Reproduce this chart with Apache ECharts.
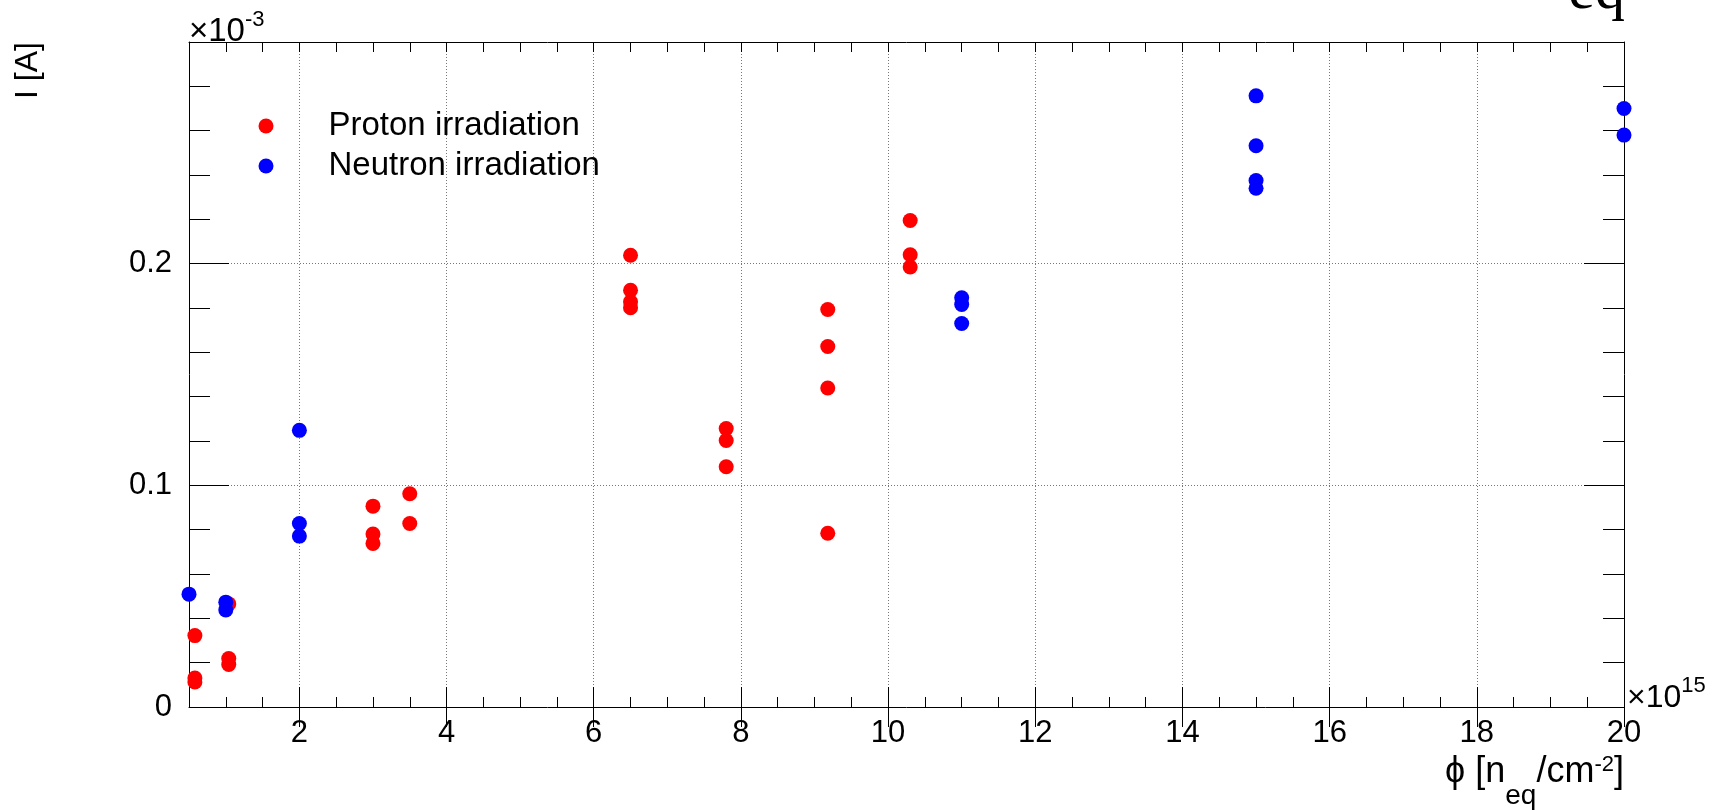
<!DOCTYPE html>
<html>
<head>
<meta charset="utf-8">
<script src="https://cdn.jsdelivr.net/npm/echarts@6/dist/echarts.min.js"></script>
<style>
html,body{margin:0;padding:0;background:#fff;}
#chart{width:1723px;height:810px;}
</style>
</head>
<body>
<div id="chart"></div>
<script>
// ---- data (fluence in 1e15 n_eq/cm^2, current in 1e-3 A) ----
const protonFluence = [0.58, 0.58, 0.58, 1.04, 1.04, 1.04, 3.0, 3.0, 3.0, 3.5, 3.5,
  6.5, 6.5, 6.5, 6.5, 7.8, 7.8, 7.8, 9.18, 9.18, 9.18, 9.18, 10.3, 10.3, 10.3];
const protonCurrent = [0.0322, 0.0131, 0.0113, 0.0465, 0.0219, 0.0192, 0.0906, 0.0780, 0.0738, 0.0962, 0.0828,
  0.2038, 0.1880, 0.1828, 0.1801, 0.1256, 0.1202, 0.1084, 0.1793, 0.1626, 0.1439, 0.0784, 0.2195, 0.2040, 0.1985];
const neutronFluence = [0.5, 1.0, 1.0, 2.0, 2.0, 2.0, 11.0, 11.0, 11.0, 15.0, 15.0, 15.0, 15.0, 20.0, 20.0];
const neutronCurrent = [0.0509, 0.0473, 0.0438, 0.1248, 0.0828, 0.0771, 0.1846, 0.1816, 0.1730,
  0.2757, 0.2532, 0.2375, 0.2340, 0.2700, 0.2580];
const seriesNames = ['Proton irradiation', 'Neutron irradiation'];
const xMajorTicks = [2, 4, 6, 8, 10, 12, 14, 16, 18, 20];
const xGridValues = [2, 4, 6, 8, 10, 12, 14, 16, 18];
const yTickLabels = [0, 0.1, 0.2];
const yGridValues = [0.1, 0.2];
const xRange = [0.5, 20];
const yRange = [0, 0.3];

// ---- styling ----
const FONT = '"Liberation Sans", Arial, Helvetica, sans-serif';
const SERIF = '"Liberation Serif", "DejaVu Serif", serif';
const BLACK = '#000';
const tickLine = {color: BLACK, width: 1};
const gridLine = {color: '#777', width: 1, type: [1, 2]};

function zip(xs, ys) { return xs.map((x, i) => [x, ys[i]]); }
// rich token helper: place glyph baseline near `baseline`, given text line top
function tok(fs, baseline, lineTop, family) {
  const center = baseline - 0.3465 * fs;
  return {fontSize: fs, fontFamily: family || FONT, lineHeight: fs, color: BLACK,
          verticalAlign: 'top', padding: [Math.max(0, center - lineTop - fs / 2), 0, 0, 0]};
}

function xAxisBase(pos) {
  return {type: 'value', gridIndex: 0, position: pos, min: xRange[0], max: xRange[1],
          axisLine: {show: false}, axisTick: {show: false}, axisLabel: {show: false},
          splitLine: {show: false}, minorTick: {show: false}};
}
function yAxisBase(pos) {
  return {type: 'value', gridIndex: 0, position: pos, min: yRange[0], max: yRange[1],
          axisLine: {show: false}, axisTick: {show: false}, axisLabel: {show: false},
          splitLine: {show: false}, minorTick: {show: false}};
}

const xAxes = [
  // bottom minor ticks + frame line (data axis)
  Object.assign(xAxisBase('bottom'), {interval: 0.5,
    axisLine: {show: true, onZero: false, lineStyle: tickLine},
    axisTick: {show: true, inside: true, length: 10, lineStyle: tickLine}}),
  // bottom major ticks + labels
  Object.assign(xAxisBase('bottom'), {
    axisTick: {show: true, inside: true, length: 20, lineStyle: tickLine, customValues: xMajorTicks},
    axisLabel: {show: true, customValues: xMajorTicks, fontSize: 31, fontFamily: FONT, color: BLACK, margin: 11}}),
  // top minor ticks + frame line
  Object.assign(xAxisBase('top'), {interval: 0.5,
    axisLine: {show: true, onZero: false, lineStyle: tickLine},
    axisTick: {show: true, inside: true, length: 10, lineStyle: tickLine}}),
  // top major ticks
  Object.assign(xAxisBase('top'), {
    axisTick: {show: true, inside: true, length: 20, lineStyle: tickLine, customValues: xMajorTicks}}),
  // vertical dotted grid lines
  Object.assign(xAxisBase('bottom'), {
    axisTick: {show: false, customValues: xGridValues},
    splitLine: {show: true, lineStyle: gridLine}})
];

const yAxes = [
  Object.assign(yAxisBase('left'), {interval: 0.1,
    axisLine: {show: true, onZero: false, lineStyle: tickLine},
    axisTick: {show: true, inside: true, length: 40, lineStyle: tickLine},
    minorTick: {show: true, splitNumber: 5, length: 21, lineStyle: tickLine},
    axisLabel: {show: true, customValues: yTickLabels, fontSize: 31, fontFamily: FONT, color: BLACK, margin: 17}}),
  Object.assign(yAxisBase('right'), {interval: 0.1,
    axisLine: {show: true, onZero: false, lineStyle: tickLine},
    axisTick: {show: true, inside: true, length: 40, lineStyle: tickLine},
    minorTick: {show: true, splitNumber: 5, length: 21, lineStyle: tickLine}}),
  Object.assign(yAxisBase('left'), {
    axisTick: {show: false, customValues: yGridValues},
    splitLine: {show: true, lineStyle: gridLine}})
];

const chart = echarts.init(document.getElementById('chart'), null, {renderer: 'canvas'});
chart.setOption({
  backgroundColor: '#fff',
  animation: false,
  grid: {left: 189, right: 99, top: 42, bottom: 103, containLabel: false, outerBoundsMode: 'none'},
  xAxis: xAxes,
  yAxis: yAxes,
  legend: {
    data: seriesNames, orient: 'vertical', left: 258.5, top: 108, padding: 0,
    itemWidth: 15, itemHeight: 15, itemGap: 4, icon: 'circle',
    textStyle: {fontSize: 33, fontFamily: FONT, color: BLACK, lineHeight: 30, padding: [6, 0, 0, 50]}
  },
  series: [
    {name: seriesNames[0], type: 'scatter', xAxisIndex: 0, yAxisIndex: 0, clip: false,
     symbol: 'circle', symbolSize: 15, itemStyle: {color: '#ff0000', opacity: 1},
     data: zip(protonFluence, protonCurrent)},
    {name: seriesNames[1], type: 'scatter', xAxisIndex: 0, yAxisIndex: 0, clip: false,
     symbol: 'circle', symbolSize: 15, itemStyle: {color: '#0000ff', opacity: 1},
     data: zip(neutronFluence, neutronCurrent)}
  ],
  graphic: [
    // y exponent
    {type: 'text', x: 189, y: 0, silent: true, style: {
      text: '{a|×10}{b|-3}', x: 0, y: 0, align: 'left', verticalAlign: 'top',
      rich: {a: tok(33, 43, 0), b: tok(22, 28, 0)}}},
    // x exponent
    {type: 'text', x: 1627, y: 660, silent: true, style: {
      text: '{a|×10}{b|15}', x: 0, y: 0, align: 'left', verticalAlign: 'top',
      rich: {a: tok(32, 709 - 660, 0), b: tok(22, 694 - 660, 0)}}},
    // x axis title
    {type: 'text', x: 1624, y: 740, silent: true, style: {
      text: '{m|ϕ [n}{s|eq}{m|/cm}{p|-2}{m|]}', x: 0, y: 0, align: 'right', verticalAlign: 'top',
      rich: {m: tok(36, 45, 0), s: tok(28, 66, 0), p: tok(22, 33, 0)}}},
    // y axis title
    {type: 'text', x: 28, y: 42, rotation: Math.PI / 2, silent: true, style: {
      text: 'I [A]', x: 0, y: 0, align: 'right', verticalAlign: 'middle',
      fontSize: 32, fontFamily: FONT, fill: BLACK}},
    // clipped title fragment at the top right
    {type: 'text', x: 1625, y: -8, silent: true, style: {
      text: 'eq', x: 0, y: 0, align: 'right', verticalAlign: 'middle',
      fontSize: 60, fontFamily: SERIF, fill: BLACK}}
  ]
});
</script>
</body>
</html>
